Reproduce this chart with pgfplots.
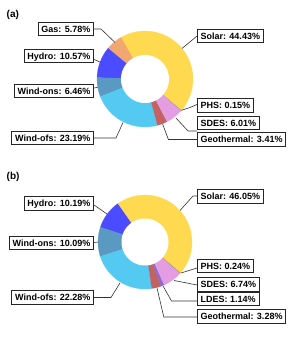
\documentclass[border=0pt]{standalone}
\usepackage{pgfplots}
\pgfplotsset{compat=1.18}
\usepackage{pgfplotstable}
\usepackage{fontspec}
\setmainfont{Liberation Sans}

\definecolor{csolar}{HTML}{FFD94F}
\definecolor{cgas}{HTML}{F2A770}
\definecolor{chydro}{HTML}{4B4BFF}
\definecolor{cwindons}{HTML}{5A99C2}
\definecolor{cwindofs}{HTML}{54C9F1}
\definecolor{cgeo}{HTML}{C26262}
\definecolor{csdes}{HTML}{E49CE2}
\definecolor{cphs}{HTML}{8C8C8C}
\definecolor{cldes}{HTML}{8E6BD2}

% panel (a): counter-clockwise order
\pgfplotstableread{
name value col
Gas 5.78 cgas
Hydro 10.57 chydro
Wind-ons 6.46 cwindons
Wind-ofs 23.19 cwindofs
Geothermal 3.41 cgeo
SDES 6.01 csdes
PHS 0.15 cphs
Solar 44.43 csolar
}\dataA

% panel (b)
\pgfplotstableread{
name value col
Hydro 10.19 chydro
Wind-ons 10.09 cwindons
Wind-ofs 22.28 cwindofs
Geothermal 3.28 cgeo
LDES 1.14 cldes
SDES 6.74 csdes
PHS 0.24 cphs
Solar 46.05 csolar
}\dataB

\newcommand{\donut}[2]{%
  \pgfplotstablegetrowsof{#1}%
  \pgfmathtruncatemacro\nrows{\pgfplotsretval-1}%
  \pgfmathsetmacro\angstart{#2}%
  \pgfplotsforeachungrouped \i in {0,...,\nrows}{%
    \pgfplotstablegetelem{\i}{value}\of#1\let\val\pgfplotsretval
    \pgfplotstablegetelem{\i}{col}\of#1\let\col\pgfplotsretval
    \pgfmathsetmacro\angend{\angstart+3.6*\val}%
    \edef\temp{\noexpand\addplot[fill=\col, draw=\col, line width=0.15pt, domain=\angstart:\angend, samples=40] ({cos(x)},{sin(x)}) -- (axis cs:0,0) -- cycle;}%
    \temp
    \global\let\angstart\angend
  }%
  \addplot[fill=white, draw=none, domain=0:360, samples=120] ({0.5*cos(x)},{0.5*sin(x)}) -- cycle;
}

\tikzset{
  lab/.style={draw=black!85, line width=0.7pt, fill=white,
    font=\bfseries\fontsize{9}{10}\selectfont, inner xsep=3.3pt, inner ysep=3.2pt,
    text height=6.6pt, text depth=0.3pt},
  ll/.style={line width=0.6pt, black!80},
}

\begin{document}
\begin{tikzpicture}
\path (0pt,0pt) rectangle (291pt,339pt);

\begin{axis}[at={(145pt,260pt)}, anchor=center, width=96pt, height=96pt,
  scale only axis, xmin=-1, xmax=1, ymin=-1, ymax=1, hide axis, clip=false]
  \donut{\dataA}{119.5}
\end{axis}

\begin{axis}[at={(145pt,97pt)}, anchor=center, width=94pt, height=94pt,
  scale only axis, xmin=-1, xmax=1, ymin=-1, ymax=1, hide axis, clip=false]
  \donut{\dataB}{125}
\end{axis}

\begin{scope}[x=1pt, y=-1pt, shift={(0pt,339pt)}]
  % panel titles
  \node[anchor=base west, inner sep=0pt, font=\bfseries\fontsize{10}{12}\selectfont] at (6.5,18) {(a)};
  \node[anchor=base west, inner sep=0pt, font=\bfseries\fontsize{10}{12}\selectfont] at (6.5,179.5) {(b)};

  % leader lines (a)
  \draw[ll] (94,29)--(101,29)--(115,42.5);
  \draw[ll] (94,59.5)--(100,62);
  \draw[ll] (94,88)--(97.7,87.3);
  \draw[ll] (94,138)--(116,138)--(123,122.5);
  \draw[ll] (182,48.5)--(197,36);
  \draw[ll] (181.5,110.3)--(190,107.5)--(197,104.5);
  \draw[ll] (176,118)--(188,131)--(197,131);
  \draw[ll] (162.6,124)--(168.4,139.5)--(197,139.5);

  % leader lines (b)
  \draw[ll] (94,205)--(107,214);
  \draw[ll] (94,242.5)--(98,242);
  \draw[ll] (94,297.5)--(111,297.5)--(120,283);
  \draw[ll] (180,210.5)--(193,196)--(197,196);
  \draw[ll] (181,273)--(197,268);
  \draw[ll] (174,280.5)--(197,285);
  \draw[ll] (163,286)--(171.5,301)--(197,301);
  \draw[ll] (157,288)--(163.8,317)--(197,317);

  % labels (a)
  \node[lab, anchor=east] at (94,29) {Gas: 5.78\%};
  \node[lab, anchor=east] at (94,56) {Hydro: 10.57\%};
  \node[lab, anchor=east] at (94,91) {Wind-ons: 6.46\%};
  \node[lab, anchor=east] at (94,138) {Wind-ofs: 23.19\%};
  \node[lab, anchor=west] at (197,36) {Solar: 44.43\%};
  \node[lab, anchor=west] at (197,105.5) {PHS: 0.15\%};
  \node[lab, anchor=west] at (197,123) {SDES: 6.01\%};
  \node[lab, anchor=west] at (197,139.5) {Geothermal: 3.41\%};

  % labels (b)
  \node[lab, anchor=east] at (94,203.5) {Hydro: 10.19\%};
  \node[lab, anchor=east] at (94,243) {Wind-ons: 10.09\%};
  \node[lab, anchor=east] at (94,297.5) {Wind-ofs: 22.28\%};
  \node[lab, anchor=west] at (197,196.5) {Solar: 46.05\%};
  \node[lab, anchor=west] at (197,266) {PHS: 0.24\%};
  \node[lab, anchor=west] at (197,284.5) {SDES: 6.74\%};
  \node[lab, anchor=west] at (197,299) {LDES: 1.14\%};
  \node[lab, anchor=west] at (197,316.5) {Geothermal: 3.28\%};
\end{scope}
\end{tikzpicture}
\end{document}
